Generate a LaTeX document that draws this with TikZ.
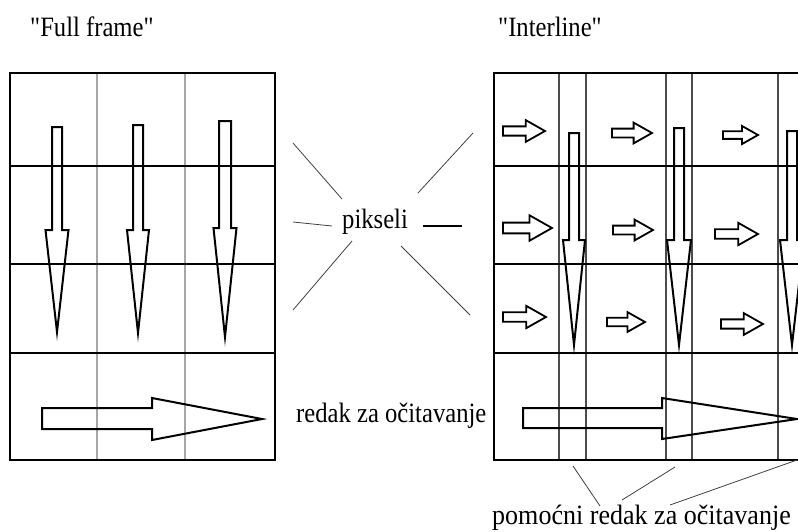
\documentclass[tikz,border=0pt]{standalone}
\usepackage{fontspec}
\setmainfont{Liberation Serif}[FakeStretch=0.88, Ligatures=TeXOff]
\newfontfamily\widefont{Liberation Serif}[FakeStretch=0.93, Ligatures=TeXOff]
\tikzset{
  frame/.style={line width=2.8pt, line join=miter},
  rowline/.style={line width=2pt},
  colthin/.style={line width=1.1pt, color=black!35},
  colstrip/.style={line width=1.3pt, color=black!70},
  arr/.style={line width=2pt, line join=miter},
  sarr/.style={line width=1.8pt, line join=miter},
  lead/.style={line width=0.8pt, color=black!75},
  lbl/.style={inner sep=0pt, font=\fontsize{28}{30}\selectfont},
}
% down arrow: cx, top, shaft width, head start, head width, tip
\newcommand\dnarr[6]{%
  \draw[arr] ({#1-#3/2},#2) -- ({#1+#3/2},#2) -- ({#1+#3/2},#4) -- ({#1+#5/2},#4)
    -- (#1,#6) -- ({#1-#5/2},#4) -- ({#1-#3/2},#4) -- cycle;}
% big right arrow: x0, shaft top, shaft bottom, head x, head top, head bottom, tip x, tip y
\newcommand\rtarr[8]{%
  \draw[arr] (#1,#2) -- (#4,#2) -- (#4,#5) -- (#7,#8) -- (#4,#6) -- (#4,#3) -- (#1,#3) -- cycle;}
% small right arrow: x0, x1, yc
\newcommand\smarr[3]{%
  \pgfmathsetmacro\smL{#2-#1}%
  \pgfmathsetmacro\smH{#2-0.46*\smL}%
  \pgfmathsetmacro\smA{0.26*\smL}%
  \pgfmathsetmacro\smS{0.11*\smL}%
  \draw[sarr] (#1,{#3-\smS}) -- (\smH,{#3-\smS}) -- (\smH,{#3-\smA}) -- (#2,#3)
    -- (\smH,{#3+\smA}) -- (\smH,{#3+\smS}) -- (#1,{#3+\smS}) -- cycle;}
\begin{document}
\begin{tikzpicture}[x=1pt,y=-1pt]
\useasboundingbox (0,0) rectangle (798,531);

% titles
\node[lbl, anchor=base west] (tff) at (30,36) {"Full frame"};
\node[lbl, anchor=base west] (til) at (498,36) {"Interline"};

% ---------- left frame ----------
\foreach \x in {97,185} \draw[colthin] (\x,73) -- (\x,460);
\foreach \y in {166,264} \draw[rowline] (10,\y) -- (275,\y);
\draw[rowline, line width=2.4pt] (10,353) -- (275,353);
\draw[frame] (10,73) rectangle (275,460);

\dnarr{57}{127}{10}{230}{23}{332}
\dnarr{138}{125}{10}{230}{22}{333}
\dnarr{225}{121}{12}{228}{23}{337}
\rtarr{42}{408}{429}{152}{398}{440}{262}{419}

% ---------- right frame ----------
\foreach \x in {559,586,666,692,778} \draw[colstrip] (\x,73) -- (\x,460);
\foreach \y in {166,264} \draw[rowline] (494,\y) -- (798,\y);
\draw[rowline, line width=2.4pt] (494,353) -- (798,353);
\draw[frame] (798,73) -- (494,73) -- (494,460) -- (798,460);

\smarr{503}{545}{131}
\smarr{612}{652}{133}
\smarr{723}{758}{135}
\smarr{503}{552}{228}
\smarr{613}{653}{230}
\smarr{715}{758}{234}
\smarr{503}{546}{317}
\smarr{607}{645}{322}
\smarr{721}{763}{324}

\dnarr{574}{133}{10}{240}{22}{345}
\dnarr{679}{128}{10}{240}{24}{345}
\dnarr{792}{131}{10}{240}{24}{345}
\rtarr{523}{408}{428}{662}{398}{439}{797}{419}

% ---------- pikseli label ----------
\node[lbl, anchor=base west] (pik) at (342,228) {pikseli};
\coordinate (p1a) at (293,143); \coordinate (p1b) at (342,199);
\coordinate (p2a) at (473,133); \coordinate (p2b) at (418,193);
\coordinate (p3a) at (293,222); \coordinate (p3b) at (332,226);
\coordinate (p4a) at (423,226); \coordinate (p4b) at (462,226);
\coordinate (p5a) at (293,310); \coordinate (p5b) at (352,241);
\coordinate (p6a) at (470,315); \coordinate (p6b) at (401,246);
\draw[lead] (p1a) -- (p1b);
\draw[lead] (p2a) -- (p2b);
\draw[lead] (p3a) -- (p3b);
\draw[lead, line width=1.2pt, color=black] (p4a) -- (p4b);
\draw[lead] (p5a) -- (p5b);
\draw[lead] (p6a) -- (p6b);

% ---------- redak label ----------
\node[lbl, anchor=base west] (red) at (296,422) {redak za očitavanje};

% ---------- pomocni label ----------
\node[inner sep=0pt, font=\widefont\fontsize{28}{30}\selectfont, anchor=base west] (pom) at (492,524) {pomoćni redak za očitavanje};
\coordinate (q1a) at (573,466); \coordinate (q1b) at (600,506);
\coordinate (q2a) at (675,467); \coordinate (q2b) at (622,500);
\coordinate (q3a) at (797,460); \coordinate (q3b) at (670,505);
\draw[lead] (q1a) -- (q1b);
\draw[lead] (q2a) -- (q2b);
\draw[lead] (q3a) -- (q3b);
\end{tikzpicture}
\end{document}
